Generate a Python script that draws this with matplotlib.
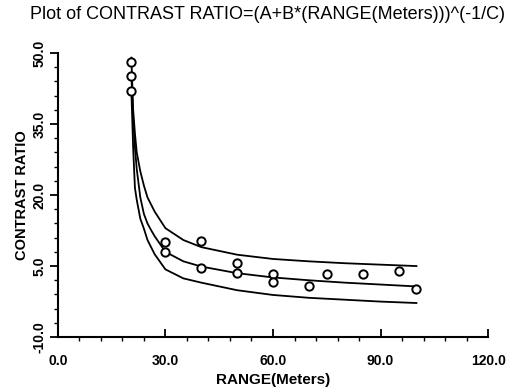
import matplotlib
matplotlib.use("Agg")
import matplotlib.pyplot as plt
import numpy as np

plt.rcParams['font.family'] = ['Liberation Sans', 'DejaVu Sans']

# observed points
range_m = [20.5, 20.5, 20.5, 30, 30, 40, 40, 50, 50, 60, 60, 70, 75, 85, 95, 100]
contrast = [48.1, 45.1, 42.0, 10.0, 8.0, 10.3, 4.6, 5.6, 3.5, 3.3, 1.6, 0.8, 3.3, 3.3, 3.9, 0.1]

# fitted curve and confidence limits
curve_x = [20.5, 21, 21.5, 22, 23, 24, 25, 26, 27, 30, 35, 40, 50, 60, 70, 80, 90, 100]
fit_mid = [45.5, 36, 30, 25.5, 19.5, 16, 14, 12.6, 11.3, 8.0, 6.0, 4.9, 3.5, 2.6, 2.0, 1.5, 1.1, 0.7]
fit_upper = [49, 38, 33, 29, 25, 22, 19.5, 18, 16.5, 13, 10.5, 9.0, 7.4, 6.5, 6.0, 5.6, 5.3, 5.0]
fit_lower = [42, 30, 21.5, 19, 15, 12.9, 10.5, 9.0, 7.5, 4.3, 2.4, 1.5, -0.1, -1.1, -1.7, -2.1, -2.5, -2.8]

fig = plt.figure(figsize=(5.21, 3.92), dpi=100)
ax = fig.add_axes([0.111, 0.140, 0.826, 0.725])

ax.plot(curve_x, fit_upper, color="black", lw=1.3)
ax.plot(curve_x, fit_mid, color="black", lw=1.3)
ax.plot(curve_x, fit_lower, color="black", lw=1.3)
ax.plot(range_m, contrast, "o", mfc="white", mec="black", mew=1.4, ms=6, ls="none")

ax.set_xlim(0, 120)
ax.set_ylim(-10, 50)
ax.set_xticks(np.arange(0, 121, 30))
ax.set_xticks(np.arange(0, 121, 6), minor=True)
ax.set_yticks(np.arange(-10, 51, 15))
ax.set_yticks(np.arange(-10, 51, 3), minor=True)
ax.set_xticklabels([f"{v:.1f}" for v in np.arange(0, 121, 30)], fontweight="bold")
ax.set_yticklabels([f"{v:.1f}" for v in np.arange(-10, 51, 15)], fontweight="bold",
                   rotation=90, va="center")

for s in ["top", "right"]:
    ax.spines[s].set_visible(False)
for s in ["left", "bottom"]:
    ax.spines[s].set_linewidth(1.5)

ax.tick_params(which="major", length=6, width=1.3, labelsize=10)
ax.tick_params(which="minor", length=3, width=1.0)
ax.tick_params(axis="x", direction="in", pad=12)
ax.tick_params(axis="y", direction="out", pad=2)

ax.set_xlabel("RANGE(Meters)", fontsize=11, fontweight="bold", labelpad=4)
ax.set_ylabel("CONTRAST RATIO", fontsize=10.5, fontweight="bold", labelpad=3)
fig.text(0.514, 0.962, "Plot of CONTRAST RATIO=(A+B*(RANGE(Meters)))^(-1/C)",
         ha="center", va="center", fontsize=13)

fig.savefig("out.png", dpi=100)
